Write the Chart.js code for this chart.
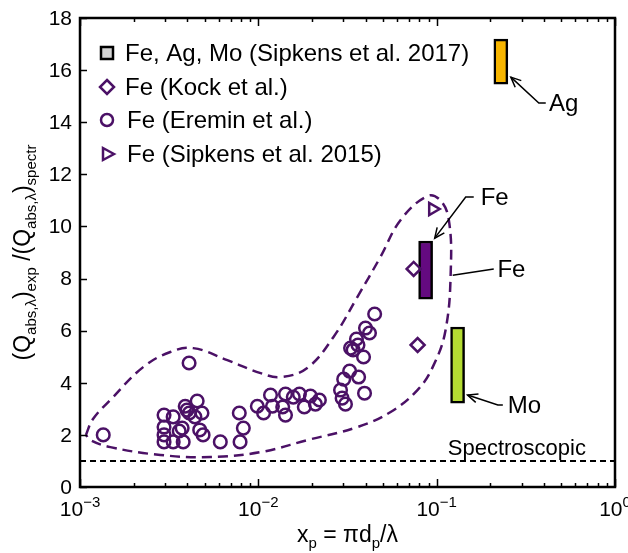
<!DOCTYPE html>
<html>
<head>
<meta charset="utf-8">
<script src="https://cdn.jsdelivr.net/npm/chart.js@4.4.0/dist/chart.umd.min.js"></script>
<style>
html, body { margin: 0; padding: 0; background: #fff; }
canvas { display: block; }
</style>
</head>
<body>
<canvas id="chart" width="628" height="553"></canvas>
<script>
// Eremin et al. (Fe)
const ereminX = [0.00135, 0.00409, 0.00296, 0.00296, 0.00296, 0.00296, 0.00333, 0.00333, 0.00379, 0.00374,
  0.0036, 0.00389, 0.00398, 0.0041, 0.00454, 0.00441, 0.00483, 0.00469, 0.0049, 0.00612,
  0.00782, 0.00824, 0.0079, 0.00987, 0.0107, 0.0117, 0.012, 0.0142, 0.0142, 0.0137,
  0.0157, 0.0170, 0.0181, 0.0196, 0.0209, 0.0220, 0.0289, 0.0295, 0.0308, 0.0301,
  0.0325, 0.0365, 0.0394, 0.0329, 0.0355, 0.0362, 0.0389, 0.0399, 0.042, 0.0449, 0.034];
const ereminY = [2.0, 4.76, 2.76, 2.3, 2.0, 1.73, 2.69, 1.73, 1.73, 2.26,
  2.15, 3.1, 2.95, 2.84, 3.3, 2.69, 2.84, 2.19, 2.0, 1.73,
  2.84, 2.26, 1.73, 3.1, 2.84, 3.53, 3.1, 3.57, 2.76, 3.07,
  3.45, 3.57, 3.07, 3.49, 3.18, 3.34, 3.72, 3.41, 3.18, 4.14,
  4.45, 4.22, 3.6, 5.33, 5.68, 5.45, 4.99, 6.1, 5.91, 6.64, 5.26];

// Kock et al. (Fe)
const kockX = [0.0743, 0.0782];
const kockY = [8.37, 5.45];

// Sipkens et al. 2015 (Fe)
const sipkens2015X = [0.095];
const sipkens2015Y = [10.67];

// Sipkens et al. 2017 ranges: Fe, Mo, Ag
const sipkens2017Names = ['Fe', 'Mo', 'Ag'];
const sipkens2017X = [0.0867, 0.131, 0.229];
const sipkens2017Low = [7.21, 3.22, 15.46];
const sipkens2017High = [9.44, 6.14, 17.19];
const sipkens2017Colors = ['#640a80', '#b4dc32', '#f7b500'];

// dashed envelope around the Fe data (closed path)
const envelopeX = [0.00108, 0.00118, 0.00148, 0.00226, 0.00321, 0.00431, 0.0067, 0.0103, 0.0133, 0.0188,
  0.0264, 0.0359, 0.0484, 0.0628, 0.0889, 0.105, 0.117, 0.12, 0.112, 0.095,
  0.078, 0.0552, 0.036, 0.0188, 0.0103, 0.00537, 0.00282, 0.00148, 0.00114, 0.00108];
const envelopeY = [2.0, 2.6, 3.34, 4.6, 5.18, 5.33, 4.87, 4.37, 4.22, 4.57,
  5.76, 7.29, 8.83, 10.25, 11.17, 11.0, 10.25, 8.33, 6.0, 4.6,
  3.72, 2.88, 2.3, 1.8, 1.34, 1.15, 1.23, 1.53, 1.8, 2.0];

// spectroscopic reference (ratio = 1)
const spectroscopicX = [0.001, 1];
const spectroscopicY = [1, 1];

const xDecades = [-3, -2, -1, 0];
const yTicks = [0, 2, 4, 6, 8, 10, 12, 14, 16, 18];

const PURPLE = '#4b1166';
const FONT = 'Arial, "Liberation Sans", sans-serif';
function font(px) { return px + 'px ' + FONT; }

function pts(xs, ys) { return xs.map((x, i) => ({ x: x, y: ys[i] })); }

// callouts: paths in data coordinates
const callouts = [
  { text: 'Ag', path: [[0.409, 14.74], [0.374, 14.74], [0.2606, 15.73]], arrow: true, at: [0.426, 14.74] },
  { text: 'Fe', path: [[0.1614, 11.13], [0.1455, 11.13], [0.0975, 9.55]], arrow: true, at: [0.1766, 11.13] },
  { text: 'Fe', path: [[0.209, 8.37], [0.123, 8.13]], arrow: false, at: [0.219, 8.37] },
  { text: 'Mo', path: [[0.235, 3.15], [0.2203, 3.15], [0.149, 3.53]], arrow: true, at: [0.2506, 3.15] }
];

function richWidth(ctx, parts, big, small) {
  let w = 0;
  parts.forEach(p => { ctx.font = font(p[1] === 'n' ? big : small); w += ctx.measureText(p[0]).width; });
  return w;
}
function drawRich(ctx, parts, x, y, big, small) {
  let cx = x;
  parts.forEach(p => {
    ctx.font = font(p[1] === 'n' ? big : small);
    const dy = p[1] === 'sub' ? 6 : (p[1] === 'sup' ? -9 : 0);
    ctx.fillText(p[0], cx, y + dy);
    cx += ctx.measureText(p[0]).width;
  });
}

const decorations = {
  id: 'decorations',
  afterDatasetsDraw(chart) {
    const ctx = chart.ctx;
    const a = chart.chartArea;
    const xs = chart.scales.x, ys = chart.scales.y;
    ctx.save();
    ctx.strokeStyle = '#000';
    ctx.fillStyle = '#000';

    // ticks (inward)
    ctx.lineWidth = 1.5;
    xDecades.forEach(d => {
      for (let m = 1; m <= 9; m++) {
        const v = m * Math.pow(10, d);
        if (v > 1.0001) break;
        const px = Math.round(xs.getPixelForValue(v)) + 0.5;
        const len = m === 1 ? 8 : 4;
        ctx.beginPath();
        ctx.moveTo(px, a.bottom); ctx.lineTo(px, a.bottom - len);
        ctx.moveTo(px, a.top); ctx.lineTo(px, a.top + len);
        ctx.stroke();
      }
    });
    yTicks.forEach(v => {
      const py = Math.round(ys.getPixelForValue(v)) + 0.5;
      ctx.beginPath();
      ctx.moveTo(a.left, py); ctx.lineTo(a.left + 7, py);
      ctx.stroke();
    });

    // frame
    ctx.lineWidth = 2.5;
    ctx.strokeRect(a.left, a.top, a.right - a.left, a.bottom - a.top);

    // tick labels
    ctx.textBaseline = 'middle';
    ctx.textAlign = 'right';
    ctx.font = font(21);
    yTicks.forEach(v => {
      ctx.fillText(String(v), a.left - 8, ys.getPixelForValue(v) + 1);
    });
    ctx.textAlign = 'left';
    ctx.textBaseline = 'alphabetic';
    xDecades.forEach(d => {
      const parts = [['10', 'n'], [d < 0 ? '\u2212' + Math.abs(d) : String(d), 'sup']];
      const w = richWidth(ctx, parts, 21, 15);
      drawRich(ctx, parts, xs.getPixelForValue(Math.pow(10, d)) - w / 2, a.bottom + 29, 21, 15);
    });

    // axis titles
    const xt = [['x', 'n'], ['p', 'sub'], [' = \u03c0d', 'n'], ['p', 'sub'], ['/\u03bb', 'n']];
    const xw = richWidth(ctx, xt, 23, 15);
    drawRich(ctx, xt, (a.left + a.right) / 2 - xw / 2, a.bottom + 55, 23, 15);

    const yt = [['(Q', 'n'], ['abs,\u03bb', 'sub'], [')', 'n'], ['exp', 'sub'], [' /(Q', 'n'], ['abs,\u03bb', 'sub'], [')', 'n'], ['spectr', 'sub']];
    const yw = richWidth(ctx, yt, 23, 15);
    ctx.save();
    ctx.translate(30, (a.top + a.bottom) / 2);
    ctx.rotate(-Math.PI / 2);
    drawRich(ctx, yt, -yw / 2, 0, 23, 15);
    ctx.restore();

    // spectroscopic label
    ctx.font = font(22);
    ctx.textAlign = 'right';
    ctx.fillText('Spectroscopic', xs.getPixelForValue(0.687), ys.getPixelForValue(1.23));

    // callouts
    ctx.lineWidth = 1.5;
    callouts.forEach(c => {
      const p = c.path.map(q => [xs.getPixelForValue(q[0]), ys.getPixelForValue(q[1])]);
      ctx.beginPath();
      ctx.moveTo(p[0][0], p[0][1]);
      for (let i = 1; i < p.length; i++) ctx.lineTo(p[i][0], p[i][1]);
      ctx.stroke();
      if (c.arrow) {
        const t = p[p.length - 1], f = p[p.length - 2];
        const ang = Math.atan2(t[1] - f[1], t[0] - f[0]);
        const L = 11, h = 0.42;
        ctx.beginPath();
        ctx.moveTo(t[0] - L * Math.cos(ang - h), t[1] - L * Math.sin(ang - h));
        ctx.lineTo(t[0], t[1]);
        ctx.lineTo(t[0] - L * Math.cos(ang + h), t[1] - L * Math.sin(ang + h));
        ctx.stroke();
      }
      ctx.font = font(24);
      ctx.textAlign = 'left';
      ctx.textBaseline = 'middle';
      ctx.fillText(c.text, xs.getPixelForValue(c.at[0]), ys.getPixelForValue(c.at[1]) + 1);
    });

    // legend
    const rows = [35, 69, 102, 136];
    const mx = a.left + 27, tx = a.left + 45;
    ctx.textAlign = 'left';
    ctx.textBaseline = 'middle';
    ctx.font = font(24);
    chart.data.datasets.slice(0, 4).forEach((ds, i) => {
      const y = a.top + rows[i];
      ctx.lineWidth = 2.5;
      ctx.strokeStyle = i === 0 ? '#000' : PURPLE;
      ctx.beginPath();
      if (i === 0) {
        ctx.fillStyle = '#d4d4d4';
        ctx.rect(mx - 6, y - 6, 12, 12);
        ctx.fill();
      } else if (i === 1) {
        ctx.moveTo(mx, y - 7); ctx.lineTo(mx + 7, y); ctx.lineTo(mx, y + 7); ctx.lineTo(mx - 7, y); ctx.closePath();
      } else if (i === 2) {
        ctx.arc(mx, y, 6, 0, Math.PI * 2);
      } else {
        ctx.moveTo(mx + 7, y); ctx.lineTo(mx - 4, y - 6); ctx.lineTo(mx - 4, y + 6); ctx.closePath();
      }
      ctx.stroke();
      ctx.fillStyle = '#000';
      ctx.fillText(ds.label, tx + (i >= 2 ? 2 : 0), y + 1);
    });
    ctx.restore();
  }
};

const sipkens2017Data = sipkens2017X.map((x, i) => ({ x: x, y: [sipkens2017Low[i], sipkens2017High[i]] }));

new Chart(document.getElementById('chart'), {
  type: 'scatter',
  data: {
    datasets: [
      {
        type: 'bar',
        label: 'Fe, Ag, Mo (Sipkens et al. 2017)',
        data: sipkens2017Data,
        backgroundColor: sipkens2017Colors,
        borderColor: '#000',
        borderWidth: 2.5,
        borderSkipped: false,
        barThickness: 14,
        grouped: false,
        order: 5
      },
      {
        label: 'Fe (Kock et al.)',
        data: pts(kockX, kockY),
        pointStyle: 'rectRot',
        pointRadius: 7,
        borderColor: PURPLE,
        backgroundColor: 'rgba(0,0,0,0)',
        borderWidth: 2.5,
        order: 2
      },
      {
        label: 'Fe (Eremin et al.)',
        data: pts(ereminX, ereminY),
        pointStyle: 'circle',
        pointRadius: 6.3,
        borderColor: PURPLE,
        backgroundColor: 'rgba(0,0,0,0)',
        borderWidth: 2.5,
        order: 2
      },
      {
        label: 'Fe (Sipkens et al. 2015)',
        data: pts(sipkens2015X, sipkens2015Y),
        pointStyle: 'triangle',
        rotation: 90,
        pointRadius: 7,
        borderColor: PURPLE,
        backgroundColor: 'rgba(0,0,0,0)',
        borderWidth: 2.5,
        order: 2
      },
      {
        label: 'envelope',
        data: pts(envelopeX, envelopeY),
        showLine: true,
        pointRadius: 0,
        borderColor: PURPLE,
        borderWidth: 2.5,
        borderDash: [10, 6],
        tension: 0.4,
        fill: false,
        order: 3
      },
      {
        label: 'spectroscopic',
        data: pts(spectroscopicX, spectroscopicY),
        showLine: true,
        pointRadius: 0,
        borderColor: '#000',
        borderWidth: 2,
        borderDash: [6, 4],
        order: 4
      }
    ]
  },
  options: {
    responsive: false,
    animation: false,
    devicePixelRatio: 1,
    layout: { padding: { left: 80, right: 13, top: 18, bottom: 66 } },
    scales: {
      x: { type: 'logarithmic', min: 0.001, max: 1, display: false },
      y: { type: 'linear', min: 0, max: 18, display: false }
    },
    plugins: {
      legend: { display: false },
      tooltip: { enabled: false }
    }
  },
  plugins: [decorations]
});
</script>
</body>
</html>
